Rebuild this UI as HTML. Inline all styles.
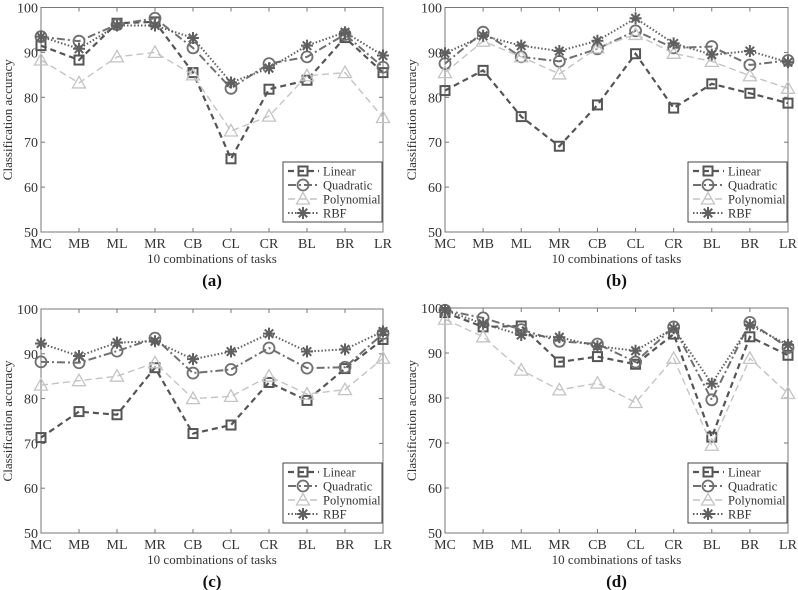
<!DOCTYPE html>
<html><head><meta charset="utf-8"><style>
html,body{margin:0;padding:0;background:#fff;}
svg{display:block;font-family:"Liberation Serif",serif;}
</style></head><body>
<svg id="fig" width="798" height="590" viewBox="0 0 798 590"></svg>
<script>
const categories = ["MC","MB","ML","MR","CB","CL","CR","BL","BR","LR"];
const yTicks = [50,60,70,80,90,100];
const seriesNames = ["Linear","Quadratic","Polynomial","RBF"];
const panelLabels = ["(a)","(b)","(c)","(d)"];
const aLinear = [91.5,88.3,96.5,96.8,85.5,66.3,81.8,83.8,93.3,85.5];
const aQuadratic = [93.5,92.5,96.2,97.6,91.0,82.0,87.5,89.0,94.0,86.7];
const aPolynomial = [88.3,83.2,89.0,90.0,85.0,72.5,75.8,84.8,85.5,75.5];
const aRBF = [93.5,90.8,96.0,96.0,93.2,83.3,86.5,91.5,94.5,89.3];
const bLinear = [81.5,86.0,75.7,69.1,78.3,89.7,77.6,83.0,80.9,78.7];
const bQuadratic = [87.5,94.5,89.0,88.0,90.8,94.8,91.0,91.3,87.2,88.2];
const bPolynomial = [85.5,92.5,89.0,85.2,91.0,94.0,89.8,88.0,84.8,82.0];
const bRBF = [89.8,93.7,91.5,90.3,92.6,97.6,92.0,89.5,90.3,87.8];
const cLinear = [71.3,77.1,76.4,86.9,72.2,74.1,83.6,79.6,86.7,93.2];
const cQuadratic = [88.2,88.0,90.6,93.5,85.7,86.5,91.3,86.8,87.0,94.5];
const cPolynomial = [83.0,84.0,85.0,88.0,80.0,80.5,85.0,81.0,82.0,89.0];
const cRBF = [92.3,89.5,92.5,92.8,88.8,90.5,94.5,90.5,91.0,95.0];
const dLinear = [99.0,95.8,96.0,88.0,89.2,87.5,94.2,71.3,93.6,89.5];
const dQuadratic = [99.5,97.8,95.2,92.6,92.0,88.0,95.8,79.6,96.8,91.2];
const dPolynomial = [97.5,93.6,86.2,81.8,83.3,79.0,88.8,69.5,88.8,81.0];
const dRBF = [99.5,96.5,94.0,93.5,91.5,90.5,95.5,83.2,96.2,91.8];

const panels = [
 {L:41,R:383,T:7.5,B:232,data:[aLinear,aQuadratic,aPolynomial,aRBF]},
 {L:445,R:788,T:7.5,B:232,data:[bLinear,bQuadratic,bPolynomial,bRBF]},
 {L:41,R:383,T:309,B:533,data:[cLinear,cQuadratic,cPolynomial,cRBF]},
 {L:445,R:788,T:308,B:533,data:[dLinear,dQuadratic,dPolynomial,dRBF]}
];
const styles = [
 {stroke:"#555",dash:"6,4",w:2.2,marker:"square"},
 {stroke:"#707070",dash:"8,3,2,3",w:2,marker:"circle"},
 {stroke:"#c4c4c4",dash:"7,4",w:1.4,marker:"triangle"},
 {stroke:"#606060",dash:"1.5,2",w:2,marker:"star"}
];
const NS="http://www.w3.org/2000/svg";
const svg=document.getElementById("fig");
function mk(tag,attrs,parent){const e=document.createElementNS(NS,tag);for(const k in attrs)e.setAttribute(k,attrs[k]);(parent||svg).appendChild(e);return e;}
function marker(g,type,x,y,st){
 let e;
 if(type==="square"){e=mk("rect",{x:x-4.5,y:y-4.5,width:9,height:9,fill:"none",stroke:st.stroke,"stroke-width":2},g);}
 else if(type==="circle"){e=mk("circle",{cx:x,cy:y,r:5.5,fill:"none",stroke:st.stroke,"stroke-width":1.8},g);}
 else if(type==="triangle"){e=mk("polygon",{points:`${x},${y-6.5} ${x-6.5},${y+5} ${x+6.5},${y+5}`,fill:"none",stroke:st.stroke,"stroke-width":1.3},g);}
 else{let d="";for(let i=0;i<4;i++){const a=i*Math.PI/4;d+=`M${x-6*Math.cos(a)},${y-6*Math.sin(a)}L${x+6*Math.cos(a)},${y+6*Math.sin(a)}`;}
  e=mk("path",{d:d,stroke:st.stroke,"stroke-width":2,fill:"none"},g);}
 return e;
}
panels.forEach((p,pi)=>{
 const g=mk("g",{});
 
 
 const xs=i=>p.L+(p.R-p.L)*i/(categories.length-1);
 const ys=v=>p.B-(v-50)/50*(p.B-p.T);
 const ax=mk("rect",{x:p.L,y:p.T,width:p.R-p.L,height:p.B-p.T,fill:"none",stroke:"#777","stroke-width":1},g);
 
 
 yTicks.forEach(t=>{
  const y=ys(t);
  mk("line",{x1:p.L,x2:p.L+4,y1:y,y2:y,stroke:"#777"},g);
  mk("line",{x1:p.R,x2:p.R-4,y1:y,y2:y,stroke:"#777"},g);
  const tx=mk("text",{x:p.L-3,y:y+5,"text-anchor":"end","font-size":14,fill:"#333"},g);
  tx.textContent=t;
  
  
 });
 categories.forEach((c,i)=>{
  const x=xs(i);
  mk("line",{x1:x,x2:x,y1:p.B,y2:p.B-4,stroke:"#777"},g);
  mk("line",{x1:x,x2:x,y1:p.T,y2:p.T+4,stroke:"#777"},g);
  const tx=mk("text",{x:x,y:p.B+16,"text-anchor":"middle","font-size":14,fill:"#333"},g);
  tx.textContent=c;
  
  
 });
 const xl=mk("text",{x:(p.L+p.R)/2,y:p.B+31,"text-anchor":"middle","font-size":13,fill:"#333"},g);
 xl.textContent="10 combinations of tasks";
 
 
 const yl=mk("text",{x:0,y:0,"text-anchor":"middle","font-size":13,fill:"#333",transform:`translate(${p.L-29},${(p.T+p.B)/2}) rotate(-90)`},g);
 yl.textContent="Classification accuracy";
 
 
 const cap=mk("text",{x:(p.L+p.R)/2,y:p.B+54,"text-anchor":"middle","font-size":17,"font-weight":"bold",fill:"#111"},g);
 cap.textContent=panelLabels[pi];
 
 
 p.data.forEach((vals,si)=>{
  const st=styles[si];
  const pts=vals.map((v,i)=>xs(i)+","+ys(v)).join(" ");
  const line=mk("polyline",{points:pts,fill:"none",stroke:st.stroke,"stroke-width":st.w,"stroke-dasharray":st.dash},g);
  
  
  vals.forEach((v,i)=>{
   const m=marker(g,st.marker,xs(i),ys(v),st);
   
   
  });
 });
 // legend
 const lx=p.R-100, lh=60, ly=p.B-lh-10;
 const lg=mk("g",{},g);
 
 
 mk("rect",{x:lx,y:ly,width:99,height:lh,fill:"#fff",stroke:"#444","stroke-width":1},lg);
 seriesNames.forEach((n,si)=>{
  const st=styles[si];
  const y=ly+9+si*14;
  mk("line",{x1:lx+5,x2:lx+36,y1:y,y2:y,stroke:st.stroke,"stroke-width":st.w,"stroke-dasharray":st.dash},lg);
  marker(lg,st.marker,lx+20,y,st);
  const t=mk("text",{x:lx+40,y:y+4.5,"font-size":12.5,fill:"#333"},lg);
  t.textContent=n;
  
  
 });
});
</script>
</body></html>
